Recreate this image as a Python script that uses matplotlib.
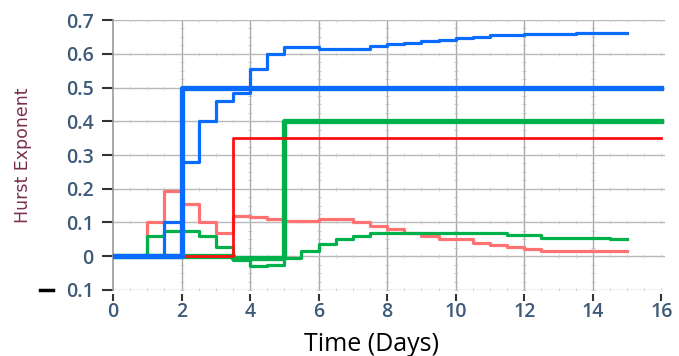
import matplotlib
matplotlib.use("Agg")
import matplotlib.pyplot as plt
from matplotlib.lines import Line2D

# ---- data ----
thick_blue_x = [0, 2, 16]
thick_blue_y = [0, 0.5, 0.5]

thick_green_x = [0, 3.5, 5, 16]
thick_green_y = [0, -0.005, 0.4, 0.4]

red_x = [2, 3.5, 16]
red_y = [0, 0.35, 0.35]

thin_blue_x = [0, 1.5, 2, 2.5, 3, 3.5, 4, 4.5, 5, 6, 7.5, 8, 8.5, 9, 9.5, 10, 10.5, 11, 12, 13.5, 15]
thin_blue_y = [0, 0.10, 0.28, 0.40, 0.46, 0.485, 0.555, 0.60, 0.62, 0.615, 0.622, 0.628, 0.632,
               0.637, 0.642, 0.647, 0.65, 0.655, 0.658, 0.662, 0.662]

pink_x = [0, 1, 1.5, 2, 2.5, 3, 3.5, 4, 4.5, 5, 6, 7, 7.5, 8, 8.5, 9, 9.5, 10.5, 11, 11.5, 12, 12.5, 15]
pink_y = [0, 0.10, 0.193, 0.155, 0.10, 0.07, 0.12, 0.115, 0.11, 0.105, 0.11, 0.10, 0.09, 0.08,
          0.07, 0.06, 0.05, 0.04, 0.033, 0.027, 0.02, 0.017, 0.017]

thin_green_x = [0, 1, 1.5, 2.5, 3, 3.5, 4, 4.5, 5, 5.5, 6, 6.5, 7, 7.5, 10.5, 11.5, 12.5, 14.5, 15]
thin_green_y = [0, 0.06, 0.075, 0.06, 0.027, -0.01, -0.03, -0.025, -0.005, 0.015, 0.035, 0.05,
                0.06, 0.07, 0.068, 0.063, 0.055, 0.05, 0.05]

x_ticks = [0, 2, 4, 6, 8, 10, 12, 14, 16]
y_ticks = [-0.1, 0, 0.1, 0.2, 0.3, 0.4, 0.5, 0.6, 0.7]
y_tick_labels = ["0.1", "0", "0.1", "0.2", "0.3", "0.4", "0.5", "0.6", "0.7"]

BLUE = "#0a6cff"
GREEN = "#00b04a"
RED = "#ff1010"
PINK = "#ff7272"
TICK_COL = "#3d5a78"
GRID = "#b8b8b8"

fig = plt.figure(figsize=(6.79, 3.56), dpi=100)
ax = fig.add_axes([0.1664, 0.1854, 0.8127, 0.7584])

ax.step(pink_x, pink_y, where="post", color=PINK, lw=2.3, zorder=3)
ax.step(thin_green_x, thin_green_y, where="post", color=GREEN, lw=2.3, zorder=3.2)
ax.step(thin_blue_x, thin_blue_y, where="post", color=BLUE, lw=2.3, zorder=3.4)
ax.step(thick_green_x, thick_green_y, where="post", color=GREEN, lw=3.8, zorder=3.6)
ax.step(red_x, red_y, where="post", color=RED, lw=2.0, zorder=3.8)
ax.step(thick_blue_x, thick_blue_y, where="post", color=BLUE, lw=3.8, zorder=4)

ax.set_xlim(0, 16.1)
ax.set_ylim(-0.1, 0.7)

# grid with small minor marks
minor_x = [i * 0.5 for i in range(33)]
minor_y = [-0.1 + i * 0.025 for i in range(33)]
for yv in y_ticks:
    ax.plot([0, 16.1], [yv, yv], color=GRID, lw=1.0, zorder=1)
    ax.plot(minor_x, [yv] * len(minor_x), ls="none", marker="|", ms=2.5, mew=0.6,
            color="#cccccc", zorder=1)
for xv in x_ticks[1:-1]:
    ax.plot([xv, xv], [-0.1, 0.7], color="#aaaaaa", lw=1.0, zorder=1)
    ax.plot([xv] * len(minor_y), minor_y, ls="none", marker="_", ms=2.5, mew=0.6,
            color="#c0c0c0", zorder=1)

for s in ["top", "right", "bottom"]:
    ax.spines[s].set_visible(False)
ax.spines["left"].set_color("#999999")
ax.spines["left"].set_linewidth(1.2)
ax.spines["bottom"].set_position(("outward", 3))

ax.set_xticks(x_ticks)
ax.set_xticklabels([str(v) for v in x_ticks])
ax.set_yticks(y_ticks)
ax.set_yticklabels(y_tick_labels)

font = ["Open Sans", "DejaVu Sans"]
ax.tick_params(axis="y", direction="out", length=8, width=1.5, color="#333333",
               labelsize=14, labelcolor=TICK_COL, pad=6)
ax.tick_params(axis="x", direction="out", length=5, width=1.5, color="#333333",
               labelsize=14, labelcolor=TICK_COL, pad=1)
for lab in ax.get_xticklabels() + ax.get_yticklabels():
    lab.set_family(font)
    lab.set_fontweight("semibold")

# black minus sign drawn left of the lowest tick label
fig.add_artist(Line2D([40 / 679, 53 / 679], [1 - 290 / 356, 1 - 290 / 356],
                      color="black", lw=2.5, transform=fig.transFigure))

ax.set_ylabel("Hurst Exponent", color="#7a3050", fontsize=12.5,
              family=["Liberation Sans Narrow", "DejaVu Sans"])
ax.yaxis.set_label_coords(-0.147, 0.5)
ax.set_xlabel("Time (Days)", color="black", fontsize=18, family=font)
ax.xaxis.set_label_coords(0.468, -0.155)

fig.savefig("out.png", dpi=100)
